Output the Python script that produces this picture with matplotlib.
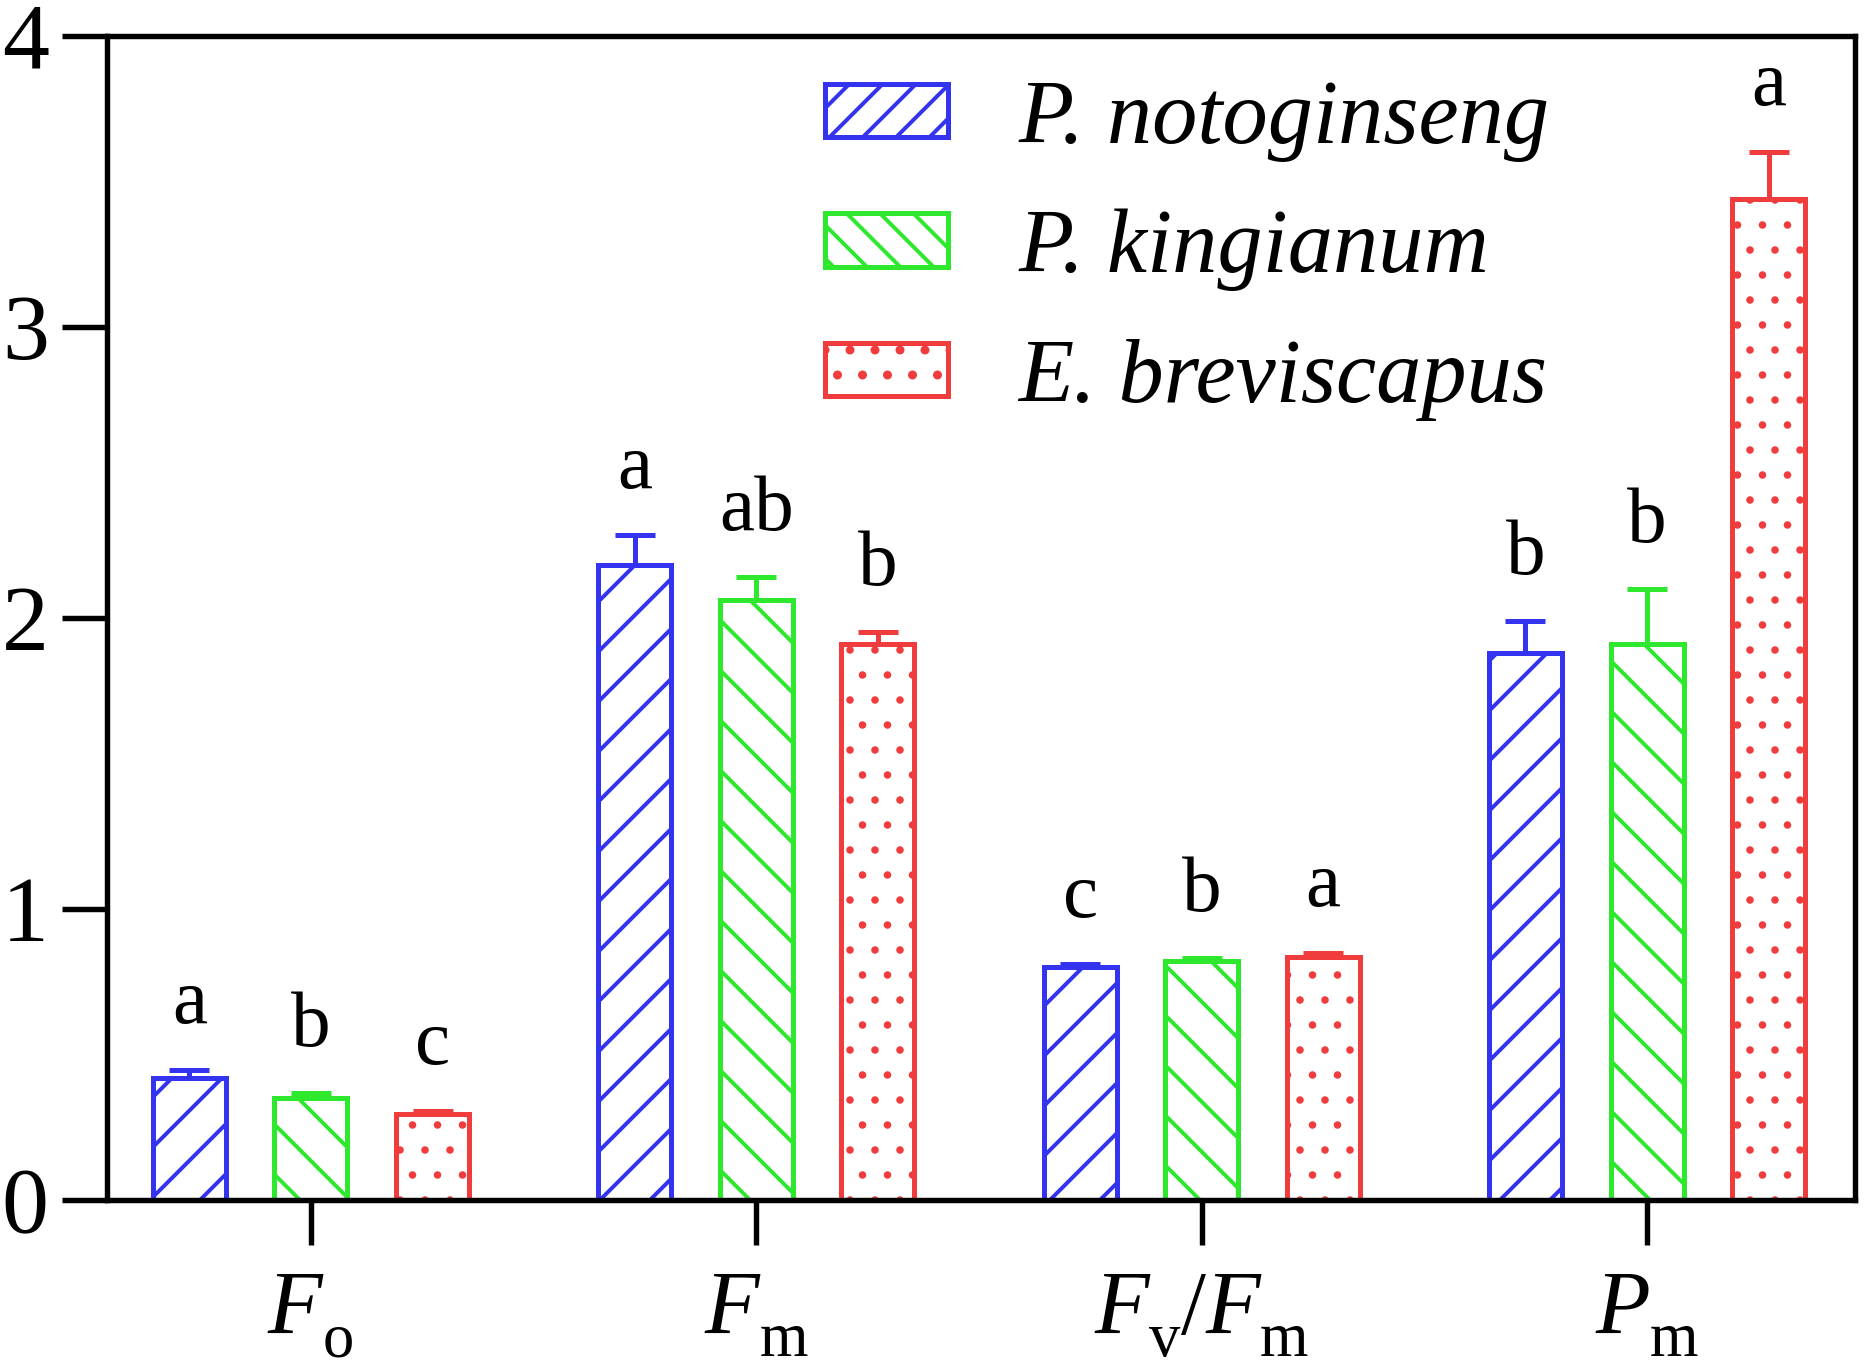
import matplotlib.pyplot as plt
import numpy as np
from matplotlib.patches import Patch
from matplotlib.transforms import blended_transform_factory, ScaledTranslation

plt.rcParams['font.family'] = ['Liberation Serif', 'DejaVu Serif']
plt.rcParams['hatch.linewidth'] = 0.95

# données
species = ['P. notoginseng', 'P. kingianum', 'E. breviscapus']
params = ['Fo', 'Fm', 'Fv/Fm', 'Pm']
# morceaux des étiquettes : 0 = italique, 1 = indice, 2 = droit
param_labels = [[('F', 0), ('o', 1)],
                [('F', 0), ('m', 1)],
                [('F', 0), ('v', 1), ('/', 2), ('F', 0), ('m', 1)],
                [('P', 0), ('m', 1)]]

mean_pn = [0.42, 2.18, 0.80, 1.88]
mean_pk = [0.35, 2.06, 0.82, 1.91]
mean_eb = [0.295, 1.91, 0.835, 3.44]
sd_pn = [0.025, 0.105, 0.012, 0.11]
sd_pk = [0.018, 0.08, 0.01, 0.19]
sd_eb = [0.011, 0.04, 0.012, 0.16]
let_pn = ['a', 'a', 'c', 'b']
let_pk = ['b', 'ab', 'b', 'b']
let_eb = ['c', 'b', 'a', 'a']

means = [mean_pn, mean_pk, mean_eb]
sds = [sd_pn, sd_pk, sd_eb]
letters = [let_pn, let_pk, let_eb]
colors = ['#3333f0', '#2ee82e', '#f03c3c']
hatches = ['//', '\\\\', '..']
leg_hatches = ['///', '\\\\\\', '..']
hatch_lw = [0.95, 0.95, 0.6]

fig = plt.figure(figsize=(1867 / 300, 1370 / 300), dpi=300)
ax = fig.add_axes([107 / 1867, 170 / 1370, 1748 / 1867, 1164.5 / 1370])

x = np.arange(len(params))
offs = [-0.273, 0.0, 0.273]
w = 0.164

for i in range(3):
    xs = x + offs[i]
    with plt.rc_context({'hatch.linewidth': hatch_lw[i]}):
        ax.bar(xs, means[i], w, facecolor='white', edgecolor=colors[i],
               hatch=hatches[i], lw=1.2, zorder=2)
    ax.errorbar(xs, means[i], yerr=[np.zeros(len(params)), sds[i]], fmt='none',
                ecolor=colors[i], elinewidth=1.2, capsize=4.7, capthick=1.2, zorder=1)
    for xi, m, s, l in zip(xs, means[i], sds[i], letters[i]):
        ax.annotate(l, (xi, m + s), xytext=(0, 11.3), textcoords='offset points',
                    ha='center', va='baseline', fontsize=19)

ax.set_xlim(-0.458, 3.467)
ax.set_ylim(0, 4)
ax.set_yticks([0, 1, 2, 3, 4])
ax.set_xticks(x)
ax.set_xticklabels([])
ax.tick_params(axis='both', direction='out', length=10.8, width=1.3)
ax.tick_params(axis='y', labelsize=22.5, pad=3.2)
for sp in ax.spines.values():
    sp.set_linewidth(1.3)

# étiquettes des catégories avec indices
fig.canvas.draw()
rend = fig.canvas.get_renderer()
trans = blended_transform_factory(ax.transData, ax.transAxes)
for xi, pieces in zip(x, param_labels):
    texts = []
    for s, kind in pieces:
        t = ax.text(xi, -0.1151, s, transform=trans,
                    fontsize=15 if kind == 1 else 21.5,
                    fontstyle='italic' if kind == 0 else 'normal',
                    ha='left', va='baseline', clip_on=False)
        texts.append((t, kind))
    widths = [t.get_window_extent(rend).width for t, k in texts]
    cur = -sum(widths) / 2
    for (t, k), wd in zip(texts, widths):
        dy = -22 if k == 1 else 0
        t.set_transform(trans + ScaledTranslation(cur / fig.dpi, dy / fig.dpi,
                                                  fig.dpi_scale_trans))
        cur += wd

handles = []
for c, h, hl in zip(colors, leg_hatches, hatch_lw):
    with plt.rc_context({'hatch.linewidth': hl}):
        handles.append(Patch(facecolor='white', edgecolor=c, hatch=h, lw=1.2))
ax.legend(handles, species, loc='upper left', bbox_to_anchor=(0.411, 0.9626),
          frameon=False, prop={'style': 'italic', 'size': 21.7},
          handlelength=1.36, handleheight=0.53, handletextpad=0.77,
          labelspacing=0.52, borderpad=0, borderaxespad=0)

fig.savefig('out.png', dpi=300)
